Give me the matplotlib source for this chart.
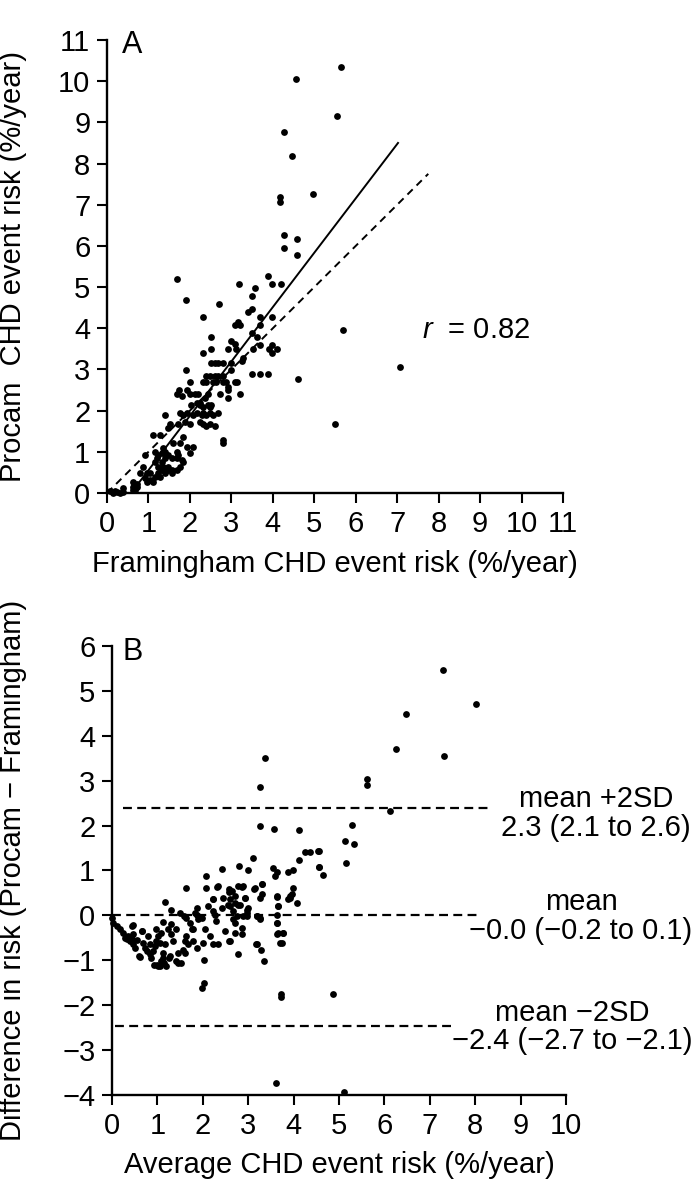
import matplotlib
matplotlib.use('Agg')
import matplotlib.pyplot as plt
import numpy as np

plt.rcParams['font.family'] = ['Liberation Sans', 'DejaVu Sans']
plt.rcParams['mathtext.fontset'] = 'custom'
plt.rcParams['mathtext.it'] = 'Liberation Sans:italic'
plt.rcParams['mathtext.rm'] = 'Liberation Sans'

# panel A: Framingham vs Procam risk (%/year)
fram_risk = [
    5.65, 4.55, 5.56, 4.27, 4.46, 4.97, 4.17, 4.17, 4.27, 4.58,
    4.28, 4.58, 1.69, 3.89, 3.19, 3.99, 4.19, 3.58, 1.90, 3.49,
    2.70, 3.49, 2.31, 3.40, 3.69, 3.99, 3.16, 5.70, 3.08, 3.20,
    3.69, 2.51, 3.49, 3.61, 3.00, 3.08, 3.11, 2.31, 2.51, 2.91,
    3.69, 3.51, 3.99, 3.99, 3.91, 4.09, 3.28, 3.25, 2.60, 2.80,
    2.52, 2.68, 3.00, 1.90, 2.99, 2.40, 2.48, 2.60, 2.68, 2.80,
    3.49, 3.69, 3.89, 4.60, 3.08, 3.13, 2.88, 2.80, 2.64, 2.56,
    2.32, 2.40, 2.00, 2.92, 2.92, 1.70, 1.80, 2.00, 2.12, 2.20,
    2.44, 2.72, 3.20, 2.36, 2.92, 2.02, 2.24, 2.32, 2.44, 2.48,
    2.52, 1.76, 1.84, 1.92, 2.08, 2.16, 2.28, 2.32, 2.40, 2.48,
    2.56, 2.68, 1.40, 1.52, 1.72, 1.88, 2.00, 2.24, 2.32, 2.40,
    2.48, 2.60, 1.48, 1.12, 1.28, 1.76, 1.84, 2.80, 2.80, 1.92,
    2.00, 2.08, 1.80, 1.68, 1.72, 1.16, 1.24, 1.32, 1.40, 1.48,
    1.56, 1.68, 1.32, 1.40, 1.48, 1.24, 1.16, 1.56, 1.76, 1.84,
    1.24, 1.32, 1.40, 1.48, 1.56, 1.68, 1.16, 1.04, 0.87, 0.96,
    0.80, 0.92, 1.04, 1.12, 0.63, 0.72, 0.63, 0.72, 0.67, 0.63,
    0.39, 0.39, 0.23, 0.19, 0.07, 0.15, 0.31, 0.92, 0.96, 5.51,
    7.08, 1.60, 1.92, 2.16, 2.24, 1.73, 1.20, 1.28, 1.36, 1.36,
]
procam_risk = [
    10.35, 10.05, 9.16, 8.77, 8.18, 7.27, 7.18, 7.06, 6.27, 6.17,
    5.96, 5.77, 5.19, 5.28, 5.08, 5.08, 5.08, 4.98, 4.68, 4.78,
    4.59, 4.48, 4.28, 4.39, 4.28, 4.28, 4.16, 3.96, 4.08, 4.08,
    4.08, 3.78, 3.88, 3.79, 3.70, 3.62, 3.50, 3.39, 3.49, 3.49,
    3.59, 3.50, 3.59, 3.39, 3.49, 3.49, 3.29, 3.21, 3.16, 3.16,
    3.16, 3.16, 3.16, 2.99, 2.99, 2.84, 2.84, 2.84, 2.84, 2.84,
    2.88, 2.88, 2.88, 2.78, 2.69, 2.69, 2.69, 2.69, 2.69, 2.69,
    2.69, 2.69, 2.69, 2.58, 2.50, 2.40, 2.36, 2.40, 2.40, 2.40,
    2.40, 2.40, 2.40, 2.30, 2.30, 2.14, 2.14, 2.10, 2.14, 2.10,
    2.14, 1.94, 1.90, 1.94, 1.90, 1.94, 1.90, 1.94, 1.90, 1.94,
    1.90, 1.94, 1.89, 1.67, 1.67, 1.72, 1.67, 1.72, 1.67, 1.62,
    1.67, 1.62, 1.57, 1.41, 1.41, 1.21, 1.36, 1.29, 1.21, 1.12,
    0.96, 1.12, 0.80, 0.84, 0.92, 1.00, 0.92, 0.96, 1.00, 0.92,
    0.84, 1.00, 0.76, 0.84, 0.64, 0.64, 0.76, 0.56, 0.64, 0.76,
    0.49, 0.56, 0.49, 0.56, 0.49, 0.56, 0.40, 0.49, 0.64, 0.48,
    0.48, 0.36, 0.32, 0.27, 0.27, 0.23, 0.15, 0.15, 0.07, 0.07,
    0.11, 0.03, 0.03, 0.05, 0.05, 0.01, 0.01, 0.92, 0.27, 1.67,
    3.05, 1.21, 2.50, 2.18, 2.18, 2.50, 0.84, 0.40, 0.64, 1.10,
]
fit_x = [0.58, 7.02]
fit_y = [0.0, 8.5]
identity_x = [0.0, 7.75]

# panel B: average risk vs difference (Procam - Framingham)
avg_risk = [
    6.48, 6.26, 3.38, 5.62, 5.62, 3.27, 6.12, 3.27, 3.56, 4.12,
    7.28, 8.02, 7.31, 5.28, 5.14, 5.33, 4.37, 4.55, 4.11, 3.11,
    5.15, 4.56, 4.65, 2.42, 2.80, 3.00, 2.07, 3.54, 3.64, 3.59,
    3.88, 3.99, 1.64, 2.07, 2.33, 2.58, 2.77, 2.88, 3.15, 3.31,
    3.98, 3.64, 3.91, 3.96, 4.08, 1.17, 1.30, 1.50, 1.59, 1.64,
    1.88, 1.88, 1.83, 1.98, 2.12, 2.23, 2.22, 2.27, 2.42, 2.45,
    2.60, 2.56, 2.71, 2.72, 2.78, 2.93, 3.00, 2.97, 3.13, 3.26,
    3.19, 3.26, 2.89, 2.67, 2.29, 3.64, 3.64, 3.66, 3.70, 3.77,
    3.74, 3.17, 3.28, 3.35, 2.78, 2.03, 1.99, 3.72, 3.72, 4.86,
    3.61, 5.11, 0.00, 0.03, 0.10, 0.18, 0.25, 0.29, 0.32, 0.36,
    0.40, 0.43, 0.47, 0.51, 0.43, 0.47, 0.60, 0.65, 0.69, 0.73,
    0.76, 0.84, 0.84, 0.87, 0.91, 0.95, 0.98, 0.98, 1.02, 1.06,
    1.09, 1.12, 1.13, 1.17, 1.09, 1.02, 1.20, 1.24, 1.31, 1.35,
    1.28, 1.41, 1.46, 1.53, 1.46, 1.57, 1.61, 1.64, 1.61, 1.68,
    1.76, 1.79, 1.72, 0.92, 1.00, 1.05, 1.15, 1.25, 0.55, 0.80,
    2.75, 2.71, 2.86, 2.97, 3.19, 3.26, 2.71, 2.86, 2.60, 3.19,
    3.30, 3.63, 3.63, 3.77, 3.66, 3.92, 3.88, 3.63, 3.66, 3.31,
    2.93, 2.64, 2.60, 2.82, 2.97, 2.67, 4.25, 4.54, 4.57, 2.87,
    0.46, 0.67, 1.31, 1.13, 1.42, 1.78, 1.90, 2.05, 2.16, 2.23,
    2.01, 1.88, 2.34, 2.49, 2.58, 2.03, 0.62, 2.32, 2.58, 2.22,
]
risk_diff = [
    4.48, 3.70, 3.50, 3.04, 2.91, 2.85, 2.33, 2.00, 1.93, 1.90,
    5.47, 4.70, 3.56, 2.02, 1.65, 1.59, 1.41, 1.43, 1.24, 1.27,
    1.17, 1.08, 0.89, 1.04, 1.10, 1.00, 0.87, 1.06, 0.96, 0.87,
    0.97, 1.01, 0.62, 0.62, 0.65, 0.58, 0.65, 0.65, 0.60, 0.70,
    0.62, 0.43, 0.39, 0.47, 0.27, 0.30, 0.13, 0.06, -0.01, -0.05,
    0.17, 0.02, 0.06, -0.05, 0.21, 0.36, 0.10, 0.02, 0.17, 0.39,
    0.36, 0.24, 0.28, 0.43, 0.24, 0.39, 0.17, 0.06, 0.58, 0.39,
    -0.01, -0.05, -0.01, -0.09, -0.13, 0.02, -0.16, -0.39, -0.61, -0.39,
    -0.61, -0.64, -0.77, -1.01, -0.87, -1.50, -1.61, -1.76, -1.81, -1.76,
    -3.73, -3.93, -0.05, -0.16, -0.24, -0.31, -0.39, -0.50, -0.53, -0.46,
    -0.57, -0.53, -0.64, -0.72, -0.24, -0.42, -0.90, -0.35, -0.61, -0.72,
    -0.79, -0.64, -0.87, -0.94, -0.79, -0.68, -0.57, -0.31, -0.46, -0.61,
    -0.39, -0.94, -0.83, -0.64, -1.01, -1.13, -1.13, -0.31, -0.42, -0.57,
    -0.90, -1.01, -1.05, -1.05, -0.83, -0.76, -0.57, -0.46, -0.83, -0.64,
    -0.31, -0.57, -0.16, -1.10, -1.10, -1.13, -1.05, -0.95, -0.55, -0.45,
    -0.01, -0.16, -0.27, -0.01, -0.01, -0.09, -0.39, -0.42, -0.57, -0.64,
    0.69, -0.16, -0.42, -0.40, 0.21, 0.43, 0.37, 0.42, 0.21, 0.47,
    0.39, 0.54, 0.21, 0.24, 0.13, 0.10, 1.41, 1.43, 1.08, 0.63,
    -0.22, -0.35, -0.20, -0.15, -0.31, -0.30, -0.09, -0.31, -0.46, -0.64,
    -0.61, -0.72, -0.64, -0.35, -0.57, -1.00, -0.93, 0.63, 0.52, 0.36,
]
limit_levels = [2.40, 0.0, -2.46]
limit_starts = [0.24, 0.0, 0.07]
limit_ends = [8.33, 8.06, 7.49]
limit_names = ['mean +2SD', 'mean', 'mean \u22122SD']
limit_values = ['2.3 (2.1 to 2.6)', '\u22120.0 (\u22120.2 to 0.1)', '\u22122.4 (\u22122.7 to \u22122.1)']

fig = plt.figure(figsize=(6.92, 11.99), dpi=100)
fs = 21


def style_axes(ax):
    for s in ['top', 'right']:
        ax.spines[s].set_visible(False)
    for s in ['left', 'bottom']:
        ax.spines[s].set_linewidth(1.7)
    ax.tick_params(direction='out', length=7, width=1.5, labelsize=fs, pad=5)


# ---- panel A
axA = fig.add_axes([107 / 692, 1 - 493 / 1199, 456 / 692, 453 / 1199])
axA.scatter(fram_risk, procam_risk, s=24, color='black', linewidths=0, clip_on=False, zorder=3)
axA.plot(fit_x, fit_y, color='black', lw=1.4)
axA.plot(identity_x, identity_x, color='black', lw=1.4, linestyle=(0, (3.8, 2.8)))
axA.set_xlim(0, 11)
axA.set_ylim(0, 11)
axA.set_xticks(range(0, 12))
axA.set_yticks(range(0, 12))
style_axes(axA)
axA.set_xlabel('Framingham CHD event risk (%/year)', fontsize=fs)
axA.set_ylabel('Procam  CHD event risk (%/year)', fontsize=fs)
axA.xaxis.set_label_coords(0.5, -0.125)
axA.yaxis.set_label_coords(-0.175, 0.5)
axA.text(0.36, 10.68, 'A', fontsize=fs + 1)
axA.text(7.6, 3.76, '$r$  = 0.82', fontsize=fs)

# ---- panel B
axB = fig.add_axes([112 / 692, 1 - 1095 / 1199, 454 / 692, 449 / 1199])
axB.scatter(avg_risk, risk_diff, s=24, color='black', linewidths=0, clip_on=False, zorder=3)
for lev, x0, x1 in zip(limit_levels, limit_starts, limit_ends):
    axB.plot([x0, x1], [lev, lev], color='black', lw=1.6, linestyle=(0, (4.0, 2.4)))
axB.set_xlim(0, 10)
axB.set_ylim(-4, 6)
axB.set_xticks(range(0, 11))
axB.set_yticks(range(-4, 7))
style_axes(axB)
axB.set_xlabel('Average CHD event risk (%/year)', fontsize=fs)
axB.set_ylabel('Difference in risk (Procam \u2212 Framingham)', fontsize=fs)
axB.xaxis.set_label_coords(0.5, -0.125)
axB.yaxis.set_label_coords(-0.187, 0.5)
axB.text(0.24, 5.69, 'B', fontsize=fs + 1)

name_y = [2.42, 0.13, -2.36]
value_y = [1.76, -0.53, -2.98]
label_x = [10.66, 10.33, 10.13]
for nm, val, xc, ny, vy in zip(limit_names, limit_values, label_x, name_y, value_y):
    axB.text(xc, ny, nm, fontsize=fs, ha='center', va='baseline', clip_on=False)
    axB.text(xc, vy, val, fontsize=fs, ha='center', va='baseline', clip_on=False)

fig.savefig('out.png', dpi=100)
